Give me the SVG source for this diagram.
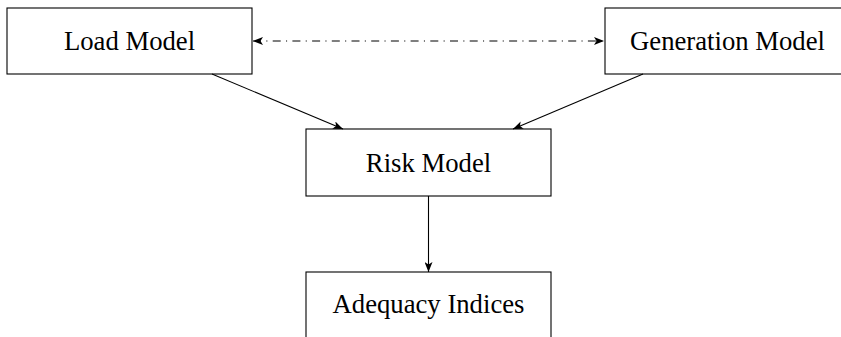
<svg xmlns="http://www.w3.org/2000/svg" width="841" height="337" viewBox="0 0 841 337">
<style>
.box{fill:#fff;stroke:#000;stroke-width:1.1}
.lbl{font-family:"Liberation Serif","Times New Roman",serif;font-size:26.7px;text-anchor:middle;fill:#000}
.edge{stroke:#000;stroke-width:1.1;fill:none}
.dd{stroke-dasharray:8 5.3 1.1 5.3}
</style>
<defs>
<marker id="ah" viewBox="0 0 10 8" refX="10" refY="4" markerWidth="10" markerHeight="8" markerUnits="userSpaceOnUse" orient="auto-start-reverse">
<path d="M0,0 L10,4 L0,8 L2.5,4 Z" fill="#000"/>
</marker>
</defs>
<rect width="841" height="337" fill="#fff"/>
<g id="load"><rect class="box" x="7" y="8" width="245" height="66"/><text class="lbl" x="129.5" y="50">Load Model</text></g>
<g id="generation"><rect class="box" x="605" y="8" width="245" height="66"/><text class="lbl" x="727.5" y="50">Generation Model</text></g>
<g id="risk"><rect class="box" x="306" y="129" width="245" height="67"/><text class="lbl" x="428.5" y="172">Risk Model</text></g>
<g id="adequacy"><rect class="box" x="306" y="272" width="245" height="67"/><text class="lbl" x="428.5" y="313">Adequacy Indices</text></g>
<g id="connectors">
<line class="edge dd" x1="253" y1="41" x2="604" y2="41" marker-start="url(#ah)" marker-end="url(#ah)"/>
<line class="edge" x1="212" y1="74" x2="343" y2="129" marker-end="url(#ah)"/>
<line class="edge" x1="643" y1="74" x2="513" y2="129" marker-end="url(#ah)"/>
<line class="edge" x1="428.5" y1="196" x2="428.5" y2="272" marker-end="url(#ah)"/>
</g>
</svg>
